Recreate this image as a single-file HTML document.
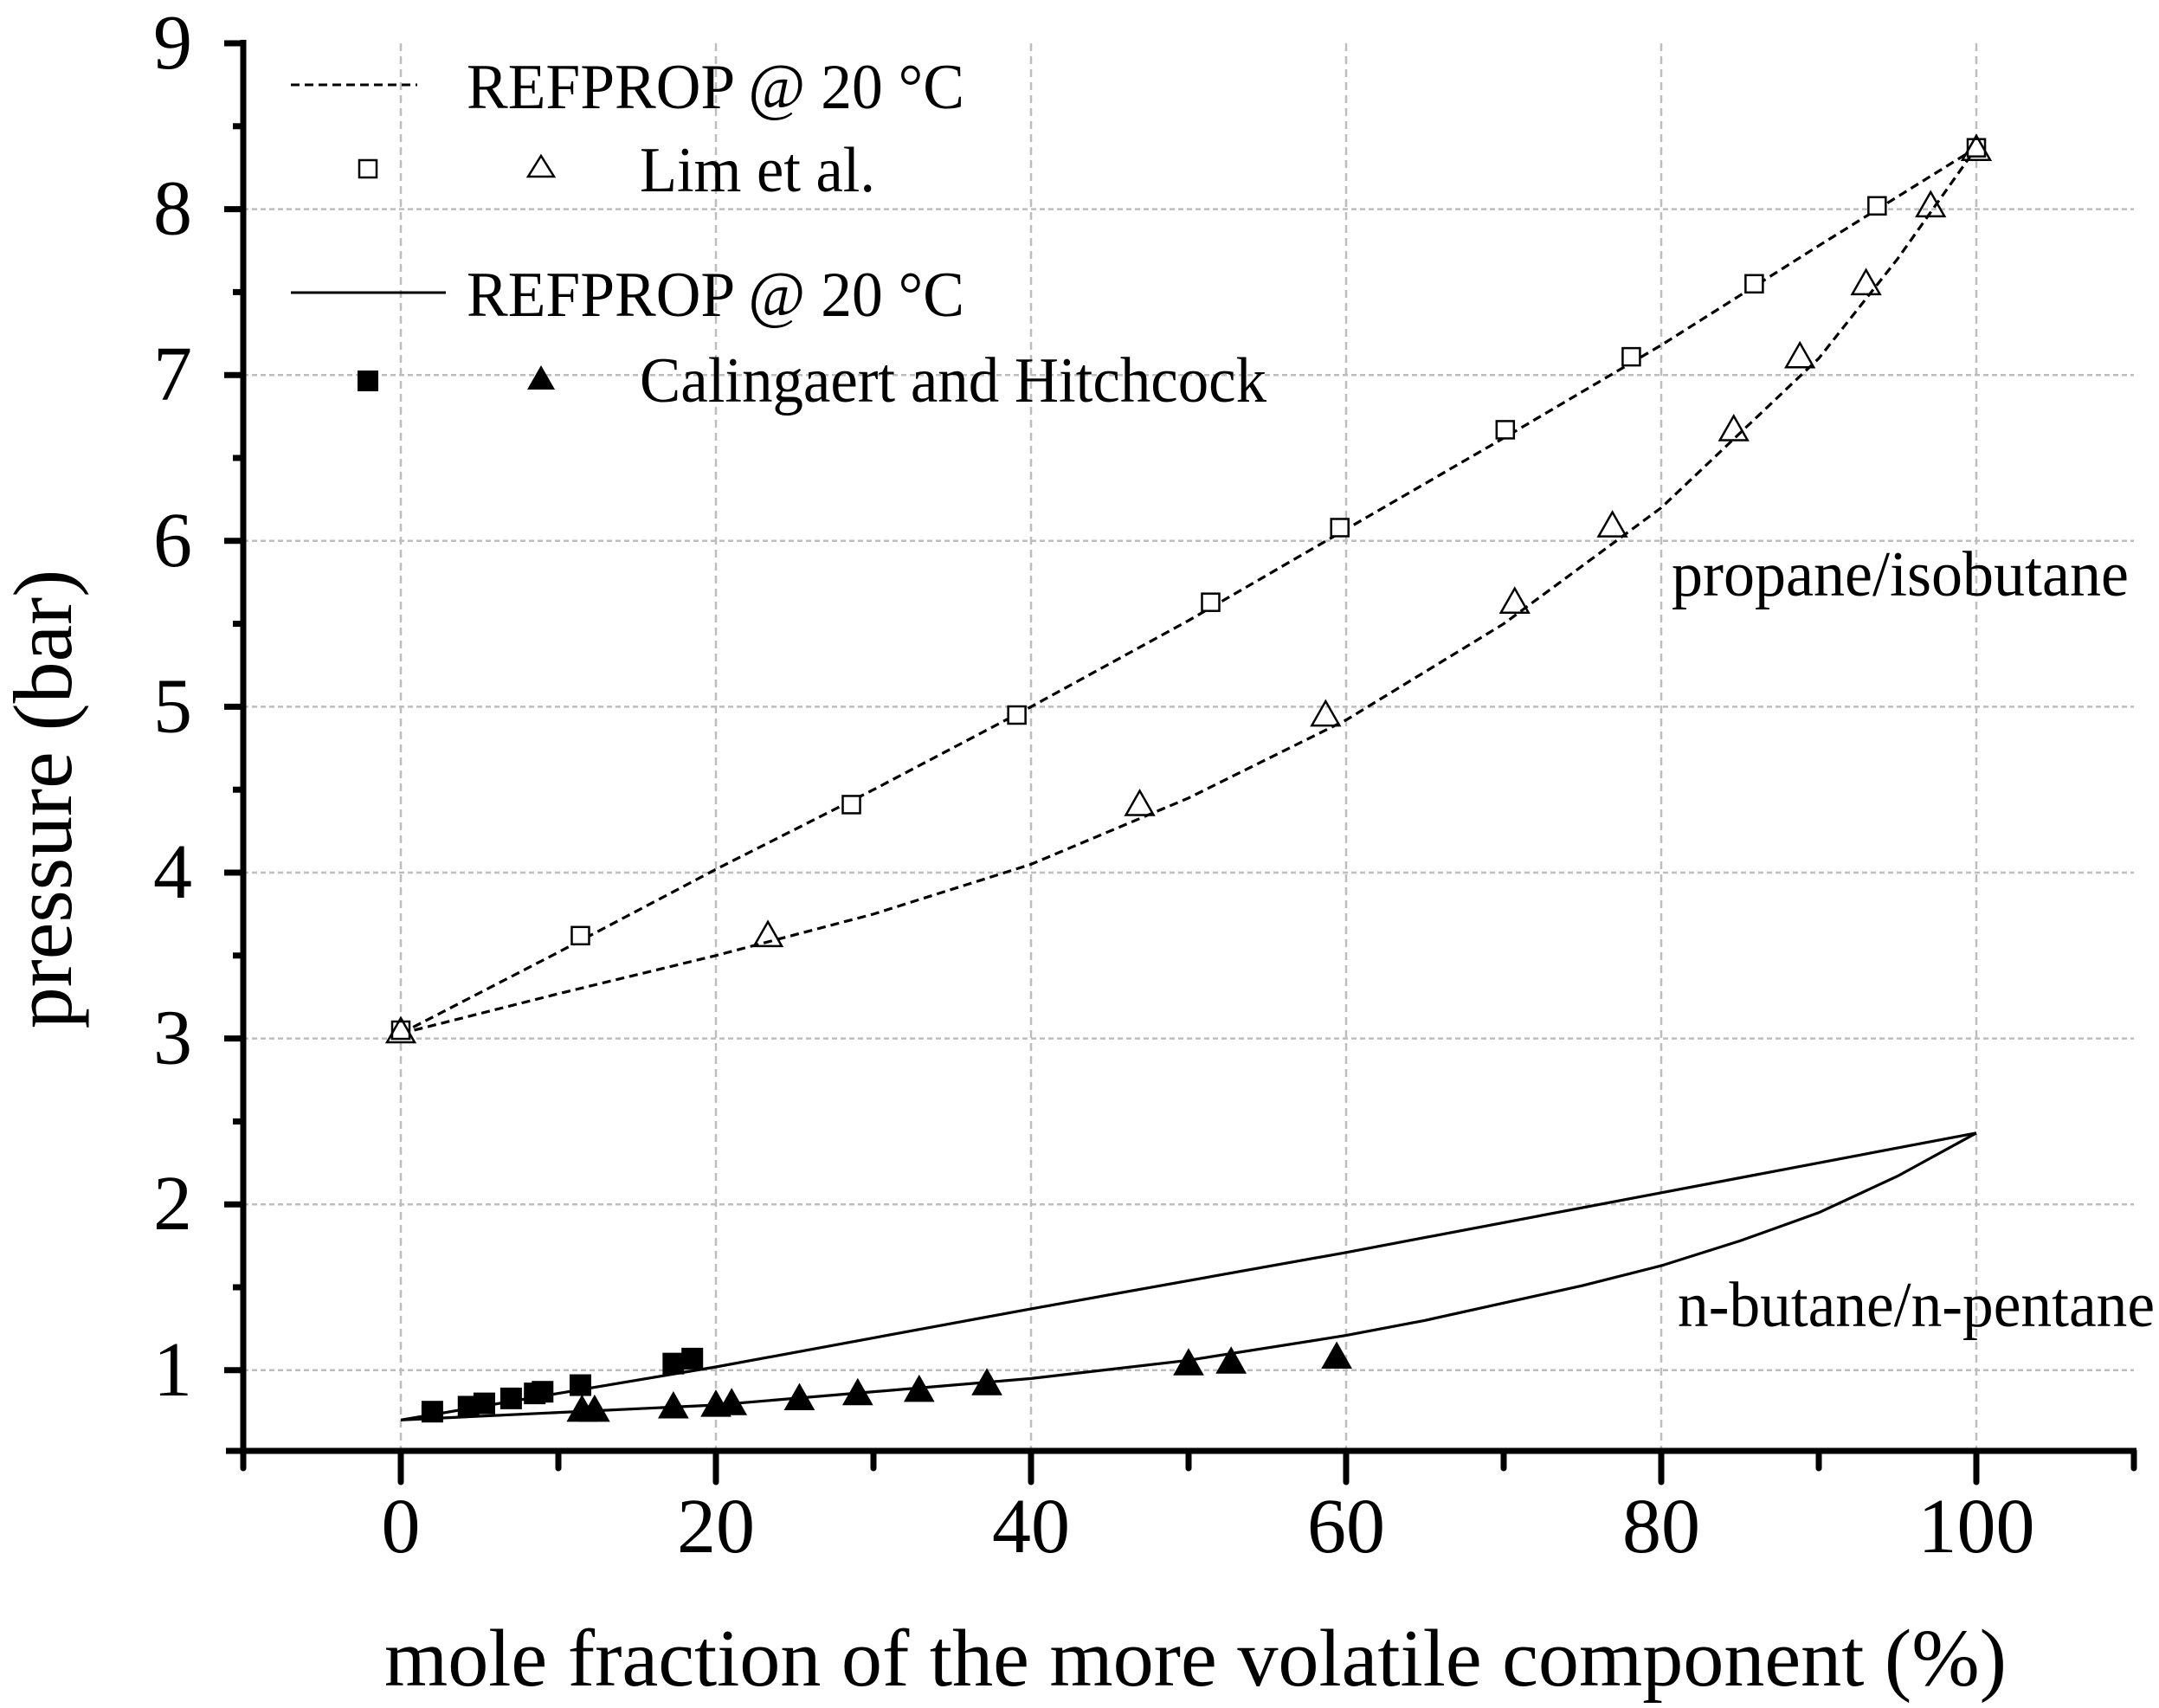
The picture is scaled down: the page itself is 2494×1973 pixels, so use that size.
<!DOCTYPE html>
<html><head><meta charset="utf-8"><style>
html,body{margin:0;padding:0;background:#fff;}
svg{display:block;font-family:"Liberation Serif",serif;}
</style></head><body>
<svg id="chart" width="2494" height="1973" viewBox="0 0 2494 1973">
<g id="grid"></g>
<g id="series"></g>
<g id="axes"></g>
<text x="82" y="923" font-size="96" text-anchor="middle" transform="rotate(-90 82 923)">pressure (bar)</text>
<text x="1381" y="1947" font-size="94" text-anchor="middle" textLength="1874" lengthAdjust="spacingAndGlyphs">mole fraction of the more volatile component  (%)</text>
<text x="1931" y="688" font-size="74" textLength="528" lengthAdjust="spacingAndGlyphs">propane/isobutane</text>
<text x="1938" y="1532" font-size="74" textLength="551" lengthAdjust="spacingAndGlyphs">n-butane/n-pentane</text>
<g>
<line x1="336" y1="98" x2="482" y2="98" stroke="#000" stroke-width="3" stroke-dasharray="10,6"/>
<text x="539" y="125" font-size="74" textLength="575" lengthAdjust="spacingAndGlyphs">REFPROP @ 20 °C</text>
<rect x="415" y="185" width="20" height="20" fill="none" stroke="#000" stroke-width="2.5"/>
<polygon points="625,180 640,204 610,204" fill="none" stroke="#000" stroke-width="2.5"/>
<text x="739" y="221" font-size="74" textLength="272" lengthAdjust="spacingAndGlyphs">Lim et al.</text>
<line x1="336" y1="338" x2="515" y2="338" stroke="#000" stroke-width="3"/>
<text x="539" y="365" font-size="74" textLength="575" lengthAdjust="spacingAndGlyphs">REFPROP @ 20 °C</text>
<rect x="413" y="428" width="24" height="24" fill="#000"/>
<polygon points="625,422 641,450 609,450" fill="#000"/>
<text x="739" y="464" font-size="74" textLength="724" lengthAdjust="spacingAndGlyphs">Calingaert and Hitchcock</text>
</g>
</svg>
<script>
// ---- data ----
const limBubbleX = [0, 11.4, 28.6, 39.1, 51.4, 59.6, 70.1, 78.1, 85.9, 93.7, 100];
const limBubbleY = [3.05, 3.62, 4.41, 4.95, 5.63, 6.08, 6.67, 7.11, 7.55, 8.02, 8.37];
const limDewX = [0, 23.3, 46.9, 58.7, 70.7, 76.9, 84.6, 88.8, 93.0, 97.1, 100];
const limDewY = [3.05, 3.63, 4.42, 4.96, 5.64, 6.10, 6.68, 7.12, 7.56, 8.03, 8.37];
const refDashBubbleX = [0, 10, 20, 30, 40, 50, 60, 70, 80, 90, 100];
const refDashBubbleY = [3.03, 3.52, 4.02, 4.50, 5.00, 5.52, 6.07, 6.62, 7.18, 7.78, 8.37];
const refDashDewX = [0, 10, 20, 30, 40, 50, 60, 70, 80, 90, 95, 100];
const refDashDewY = [3.03, 3.27, 3.50, 3.75, 4.05, 4.45, 4.92, 5.50, 6.20, 7.10, 7.70, 8.37];
const refSolidBubbleX = [0, 10, 20, 40, 60, 80, 100];
const refSolidBubbleY = [0.70, 0.86, 1.02, 1.37, 1.71, 2.07, 2.43];
const refSolidDewX = [0, 20, 40, 50, 60, 65, 75, 80, 85, 90, 95, 100];
const refSolidDewY = [0.70, 0.79, 0.95, 1.06, 1.21, 1.30, 1.51, 1.63, 1.78, 1.95, 2.17, 2.43];
const calSqX = [2, 4.3, 5.3, 7, 8.5, 9, 11.4, 17.3, 18.5];
const calSqY = [0.75, 0.78, 0.80, 0.83, 0.86, 0.87, 0.91, 1.04, 1.07];
const calTriX = [11.5, 12.3, 17.3, 20, 21, 25.3, 29, 32.9, 37.2, 50, 52.7, 59.4];
const calTriY = [0.77, 0.77, 0.79, 0.80, 0.81, 0.84, 0.87, 0.89, 0.93, 1.05, 1.06, 1.09];
const xTicks = [0, 20, 40, 60, 80, 100];
const yTicks = [1, 2, 3, 4, 5, 6, 7, 8, 9];

// ---- scales ----
const sx = v => 463 + v * 18.2;
const sy = v => 50 + (9 - v) * 191.6;
const NS = 'http://www.w3.org/2000/svg';
const X0 = 281, XAXIS = 1676, XR = 2465;
function mk(tag, attrs, parent) {
  const e = document.createElementNS(NS, tag);
  for (const k in attrs) e.setAttribute(k, attrs[k]);
  parent.appendChild(e);
  return e;
}
const grid = document.getElementById('grid');
const series = document.getElementById('series');
const axes = document.getElementById('axes');

xTicks.forEach(t => {
  const l = mk('line', {x1: sx(t), x2: sx(t), y1: 50, y2: XAXIS, stroke: '#bdbdbd', 'stroke-width': 2.5, 'stroke-dasharray': '9,6'}, grid);
  
  
});
yTicks.forEach(t => {
  if (t === 9) return;
  const l = mk('line', {x1: X0, x2: XR, y1: sy(t), y2: sy(t), stroke: '#bdbdbd', 'stroke-width': 2.5, 'stroke-dasharray': '6,4'}, grid);
  
  
});

function line(xs, ys, dashed, name) {
  const d = xs.map((x, i) => (i ? 'L' : 'M') + sx(x).toFixed(1) + ',' + sy(ys[i]).toFixed(1)).join(' ');
  const p = mk('path', {d: d, fill: 'none', stroke: '#000', 'stroke-width': 3.2}, series);
  if (dashed) p.setAttribute('stroke-dasharray', '10,6');
  
  
}
line(refDashBubbleX, refDashBubbleY, true, 'refprop-propane-bubble-line');
line(refDashDewX, refDashDewY, true, 'refprop-propane-dew-line');
line(refSolidBubbleX, refSolidBubbleY, false, 'refprop-butane-bubble-line');
line(refSolidDewX, refSolidDewY, false, 'refprop-butane-dew-line');

function squares(xs, ys, filled, name) {
  xs.forEach((x, i) => {
    const s = filled ? 24 : 20;
    const r = mk('rect', {x: sx(x) - s / 2, y: sy(ys[i]) - s / 2, width: s, height: s,
      fill: filled ? '#000' : '#fff', stroke: '#000', 'stroke-width': filled ? 1 : 2.5}, series);
    
    
  });
}
function triangles(xs, ys, filled, name) {
  xs.forEach((x, i) => {
    const cx = sx(x), cy = sy(ys[i]);
    const h = filled ? 15 : 14, w = filled ? 17 : 16;
    const p = mk('polygon', {points: `${cx},${cy - h} ${cx + w},${cy + h} ${cx - w},${cy + h}`,
      fill: filled ? '#000' : 'none', stroke: '#000', 'stroke-width': filled ? 1 : 2.5}, series);
    
    
  });
}
squares(limBubbleX, limBubbleY, false, 'lim-bubble-point');
triangles(limDewX, limDewY, false, 'lim-dew-point');
squares(calSqX, calSqY, true, 'calingaert-bubble-point');
triangles(calTriX, calTriY, true, 'calingaert-dew-point');

// axes
let a = mk('line', {x1: X0, x2: X0, y1: 46, y2: XAXIS + 3, stroke: '#000', 'stroke-width': 7}, axes);


a = mk('line', {x1: X0 - 20, x2: XR + 3, y1: XAXIS, y2: XAXIS, stroke: '#000', 'stroke-width': 7}, axes);


for (let v = -10; v <= 110; v += 10) {
  const major = v % 20 === 0;
  const t = mk('line', {x1: sx(v), x2: sx(v), y1: XAXIS, y2: XAXIS + (major ? 36 : 20), stroke: '#000', 'stroke-width': 7, 'stroke-linecap': 'round'}, axes);
  
  
}
xTicks.forEach(v => {
  const t = mk('text', {x: sx(v), y: 1793, 'font-size': 90, 'text-anchor': 'middle'}, axes);
  t.textContent = v;
  
  
});
for (let v = 1; v <= 9; v += 0.5) {
  const major = v % 1 === 0;
  const t = mk('line', {x1: X0 - (major ? 22 : 12), x2: X0, y1: sy(v), y2: sy(v), stroke: '#000', 'stroke-width': 7}, axes);
  
  
}
yTicks.forEach(v => {
  const t = mk('text', {x: 222, y: sy(v) + 29, 'font-size': 90, 'text-anchor': 'end'}, axes);
  t.textContent = v;
  
  
});
</script>
</body></html>
